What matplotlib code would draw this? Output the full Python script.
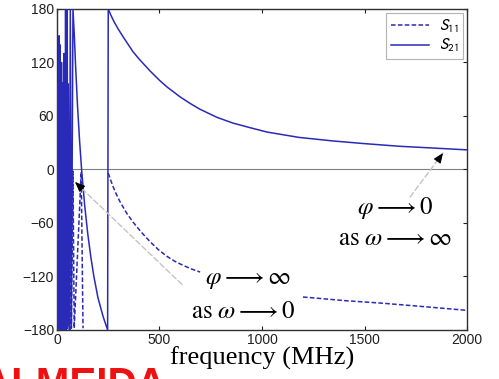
import numpy as np
import matplotlib
matplotlib.use("Agg")
import matplotlib.pyplot as plt

plt.rcParams['mathtext.fontset'] = 'stix'
plt.rcParams['font.family'] = ['Liberation Sans', 'DejaVu Sans']

# ---- data (MHz, degrees) ----
s21_freq = [0, 2, 4, 6, 8, 10, 12, 14, 16, 18, 20, 22, 24, 26, 28, 30, 32, 34, 36,
            38, 40, 42, 44, 46, 48, 50, 52, 55, 60, 65, 70, 78,
            85, 90, 100, 110, 120, 135, 150, 165, 180, 200, 225, 247,
            250, 265, 280, 300, 322, 345, 371, 400, 430, 454, 500, 537, 600, 650, 698, 780,
            859, 940, 1024, 1180, 1346, 1500, 1673, 1840, 2000]
s21_phase = [-180, 95, -178, 97, -175, 150, -180, 140, -176, 98, -180, 120, -178, 97,
             -180, 96, -175, 130, -180, 95, -170, 180, -180, 97, -172, 180, -175, 96,
             -180, 180, -178, 180,
             148, 120, 72, 33, 0, -40, -72, -98, -120, -144, -165, -180,
             180, 172, 165, 157, 149, 141, 132, 124, 116.5, 110.5, 100, 92.5, 81.5, 74, 67.5, 58.5,
             52, 47, 42, 36, 32, 29, 26, 24, 22]

s11_freq = [0, 3, 6, 9, 12, 15, 18, 21, 24, 27, 30, 33, 36, 39, 42, 45, 48, 51, 55,
            62, 66, 70, 78, 84, 118, 127, 130,
            250, 262, 275, 290, 307, 340, 371, 410, 454, 495, 537, 575, 615, 655, 698, 720,
            1200, 1400, 1590, 1800, 2000]
s11_phase = [-10, -180, -5, -178, -8, -176, -3, -180, -6, -175, -2, -178, -10, -180,
             -4, -176, -6, -180, -5,
             -180, -5, -178, -2, -178, -3, -178, np.nan,
             -4, -12, -20, -28, -36, -49, -59, -70, -81, -90, -97.5, -103, -107.5, -111.5, -115, np.nan,
             -143, -147, -150, -154, -158]

xticks = [0, 500, 1000, 1500, 2000]
yticks = [-180, -120, -60, 0, 60, 120, 180]

line_col = '#2a2ab8'

fig = plt.figure(figsize=(4.99, 3.79), dpi=100)
ax = fig.add_axes([0.1142, 0.1293, 0.8217, 0.8470])

ax.axhline(0, color='#808080', lw=0.8, zorder=1)
ax.plot(s11_freq, s11_phase, color=line_col, lw=1.1, ls=(0, (3, 1.5)),
        label=r'$\mathsf{S}_{\mathsf{11}}$', zorder=3)
ax.plot(s21_freq, s21_phase, color=line_col, lw=1.1, ls='-',
        label=r'$\mathsf{S}_{\mathsf{21}}$', zorder=3)

ax.set_xlim(0, 2000)
ax.set_ylim(-180, 180)
ax.set_xticks(xticks)
ax.set_yticks(yticks)
ax.tick_params(direction='in', top=True, right=True, length=3, labelsize=10, pad=2,
               colors='#202020')
for s in ax.spines.values():
    s.set_color('#303030')
    s.set_linewidth(1.0)

ax.set_xlabel('frequency (MHz)', family='Liberation Serif', fontsize=19, labelpad=0)

leg = ax.legend(loc='upper right', fontsize=11.5, frameon=True, fancybox=False,
                handlelength=2.4, borderpad=0.3, labelspacing=0.15,
                borderaxespad=0.25, handletextpad=0.6)
leg.get_frame().set_edgecolor('#a0a0a0')
leg.get_frame().set_linewidth(0.8)

# annotations
tfs = 18
ax.text(1649, -43, r'$\varphi \longrightarrow 0$', fontsize=tfs, ha='center', va='center')
ax.text(1651, -77, r'$\mathrm{as}\ \omega \longrightarrow \infty$', fontsize=tfs, ha='center', va='center')
ax.text(929, -123, r'$\varphi \longrightarrow \infty$', fontsize=tfs, ha='center', va='center')
ax.text(910, -159, r'$\mathrm{as}\ \omega \longrightarrow 0$', fontsize=tfs, ha='center', va='center')

gray = '#c4c4c4'
ax.annotate('', xy=(88, -14), xytext=(610, -129),
            arrowprops=dict(arrowstyle='-', color=gray, lw=1.0, ls=(0, (4, 2)),
                            shrinkA=0, shrinkB=0))
ax.annotate('', xy=(88, -14), xytext=(120, -21),
            arrowprops=dict(arrowstyle='-|>,head_length=0.6,head_width=0.25', color='black',
                            lw=0.8, shrinkA=0, shrinkB=0))
ax.annotate('', xy=(1883, 18.5), xytext=(1722, -31),
            arrowprops=dict(arrowstyle='-', color=gray, lw=1.0, ls=(0, (4, 2)),
                            shrinkA=0, shrinkB=0))
ax.annotate('', xy=(1883, 18.5), xytext=(1860, 11),
            arrowprops=dict(arrowstyle='-|>,head_length=0.6,head_width=0.25', color='black',
                            lw=0.8, shrinkA=0, shrinkB=0))

# partially visible red watermark at the bottom-left (cut off in the reference)
fig.text(-0.036, 0.034, 'ALMEIDA', color='#ee1111', fontsize=29, fontweight='bold',
         ha='left', va='top', family='Liberation Sans', transform=fig.transFigure)

fig.savefig('out.png', dpi=100)
